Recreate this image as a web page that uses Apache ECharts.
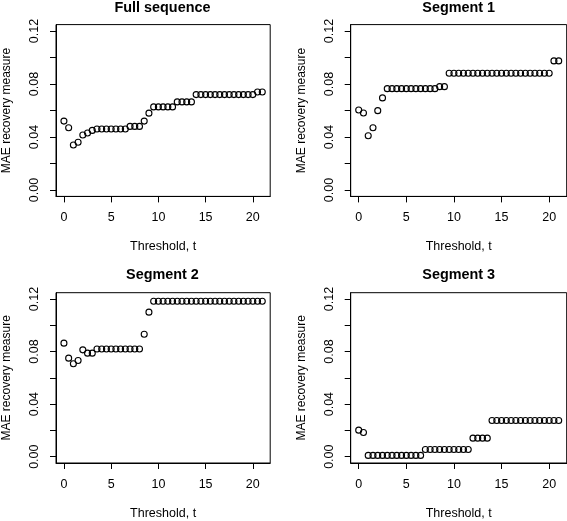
<!DOCTYPE html>
<html>
<head>
<meta charset="utf-8">
<script src="https://cdn.jsdelivr.net/npm/echarts@6/dist/echarts.min.js"></script>
<style>html,body{margin:0;padding:0;background:#fff}#c{width:567px;height:521px}</style>
</head>
<body>
<div id="c"></div>
<script>
const thresholds = [0,0.5,1,1.5,2,2.5,3,3.5,4,4.5,5,5.5,6,6.5,7,7.5,8,8.5,9,9.5,10,10.5,11,11.5,12,12.5,13,13.5,14,14.5,15,15.5,16,16.5,17,17.5,18,18.5,19,19.5,20,20.5,21];
const fullSequence = [0.052,0.047,0.034,0.036,0.0415,0.043,0.045,0.046,0.046,0.046,0.046,0.046,0.046,0.046,0.048,0.048,0.048,0.052,0.058,0.0627,0.0627,0.0627,0.0627,0.0627,0.0665,0.0665,0.0665,0.0665,0.072,0.072,0.072,0.072,0.072,0.072,0.072,0.072,0.072,0.072,0.072,0.072,0.072,0.074,0.074];
const segment1 = [0.0604,0.0581,0.041,0.047,0.0599,0.0695,0.0765,0.0765,0.0765,0.0765,0.0765,0.0765,0.0765,0.0765,0.0765,0.0765,0.0765,0.078,0.078,0.0881,0.0881,0.0881,0.0881,0.0881,0.0881,0.0881,0.0881,0.0881,0.0881,0.0881,0.0881,0.0881,0.0881,0.0881,0.0881,0.0881,0.0881,0.0881,0.0881,0.0881,0.0881,0.0974,0.0974];
const segment2 = [0.0864,0.075,0.0707,0.0732,0.0813,0.0788,0.0788,0.0819,0.0819,0.0819,0.0819,0.0819,0.0819,0.0819,0.0819,0.0819,0.0819,0.0932,0.110,0.1183,0.1183,0.1183,0.1183,0.1183,0.1183,0.1183,0.1183,0.1183,0.1183,0.1183,0.1183,0.1183,0.1183,0.1183,0.1183,0.1183,0.1183,0.1183,0.1183,0.1183,0.1183,0.1183,0.1183];
const segment3 = [0.0202,0.0184,0.001,0.001,0.001,0.001,0.001,0.001,0.001,0.001,0.001,0.001,0.001,0.001,0.0055,0.0055,0.0055,0.0055,0.0055,0.0055,0.0055,0.0055,0.0055,0.0055,0.0141,0.0141,0.0141,0.0141,0.0275,0.0275,0.0275,0.0275,0.0275,0.0275,0.0275,0.0275,0.0275,0.0275,0.0275,0.0275,0.0275,0.0275,0.0275];
const panelTitles = ['Full sequence','Segment 1','Segment 2','Segment 3'];
const xTicks = [0,5,10,15,20];
const yTicks = [0,0.02,0.04,0.06,0.08,0.10,0.12];
const yLabels = [0,0.04,0.08,0.12];
const xName = 'Threshold, t';
const yName = 'MAE recovery measure';

const panelData = [fullSequence, segment1, segment2, segment3];
const FONT = 'Liberation Sans, Arial, Helvetica, sans-serif';
const grids = [
  {left:54.7, top:24.6, width:215.5, height:171.8},
  {left:350.7, top:24.6, width:216, height:171.8},
  {left:54.7, top:292.7, width:215.5, height:170.9},
  {left:350.7, top:292.7, width:216, height:170.9}
];
const titleTops = [1, 1, 268.5, 268.5];

const option = {
  animation:false,
  backgroundColor:'#fff',
  title: panelTitles.map((t,i)=>({
    text:t, left: grids[i].left + grids[i].width/2, top: titleTops[i], textAlign:'center',
    padding:0,
    textStyle:{fontFamily:FONT, fontSize:14.4, fontWeight:'bold', color:'#000'}
  })),
  grid: grids.map(g=>Object.assign({show:true, borderColor:'#000', borderWidth:1, backgroundColor:'transparent', containLabel:false}, g)),
  xAxis: grids.map((g,i)=>({
    gridIndex:i, type:'value', min:-0.84, max:21.84,
    name:xName, nameLocation:'middle', nameGap:44,
    nameTextStyle:{fontFamily:FONT, fontSize:12.5, color:'#000'},
    axisLine:{show:true, onZero:false, lineStyle:{color:'#000', width:1}},
    axisTick:{show:true, inside:false, length:6, customValues:xTicks, lineStyle:{color:'#000'}},
    axisLabel:{show:true, margin:15, customValues:xTicks, fontFamily:FONT, fontSize:12.5, color:'#000'},
    splitLine:{show:false}
  })),
  yAxis: grids.map((g,i)=>({
    gridIndex:i, type:'value', min:-0.0048, max:0.1248,
    name:yName, nameLocation:'middle', nameGap:43, nameRotate:90,
    nameTextStyle:{fontFamily:FONT, fontSize:12, color:'#000'},
    axisLine:{show:true, onZero:false, lineStyle:{color:'#000', width:1}},
    axisTick:{show:true, inside:false, length:6, customValues:yTicks, lineStyle:{color:'#000'}},
    axisLabel:{show:true, margin:15, rotate:90, customValues:yLabels, fontFamily:FONT, fontSize:12.5, color:'#000',
      formatter:v=>Number(v).toFixed(2)},
    splitLine:{show:false}
  })),
  series: panelData.map((d,i)=>({
    type:'scatter', xAxisIndex:i, yAxisIndex:i,
    data: thresholds.map((t,j)=>[t, d[j]]),
    symbol:'circle', symbolSize:6,
    itemStyle:{color:'rgba(0,0,0,0)', borderColor:'#000', borderWidth:1.1, opacity:1},
    emphasis:{disabled:true},
    silent:true
  }))
};
const chart = echarts.init(document.getElementById('c'), null, {renderer:'canvas'});
chart.setOption(option);
</script>
</body>
</html>
